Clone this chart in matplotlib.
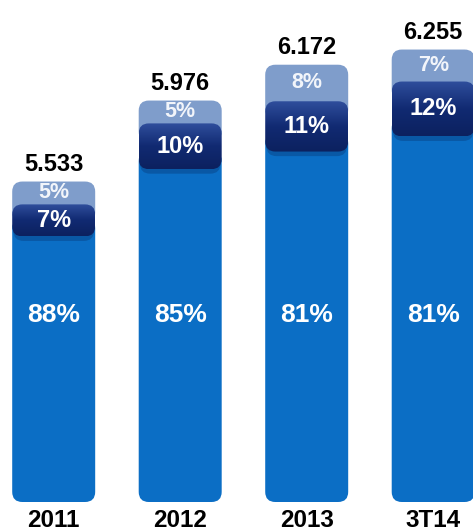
import numpy as np
import matplotlib.pyplot as plt
from matplotlib.patches import FancyBboxPatch
from matplotlib.colors import LinearSegmentedColormap

plt.rcParams['font.family'] = ['Liberation Sans', 'DejaVu Sans']

# Data
years = ['2011', '2012', '2013', '3T14']
totals = [5.533, 5.976, 6.172, 6.255]
share_base = [88, 85, 81, 81]
share_mid = [7, 10, 11, 12]
share_top = [5, 5, 8, 7]

# layout
y_floor = 3.78
seg_k = 0.025          # height of the small segments per percent point
bar_w = 0.656
r = 0.08
aspect = 0.692

blue = '#0B6EC5'
light = '#7F9DCB'
navy = LinearSegmentedColormap.from_list('navy', ['#0C215F', '#112A72', '#2F4E9C'])

fig = plt.figure(figsize=(4.73, 5.32), dpi=100)
ax = fig.add_axes([0, 30 / 532, 1, 502 / 532])
ax.axis('off')


def rbox(x0, y0, w, h, color, z):
    p = FancyBboxPatch((x0, y0), w, h, boxstyle=f'round,pad=0,rounding_size={r}',
                       mutation_aspect=aspect, fc=color, ec='none', zorder=z)
    ax.add_patch(p)
    return p


for i, yr in enumerate(years):
    x0 = i - bar_w / 2
    top = totals[i]
    mid_top = top - share_top[i] * seg_k
    mid_bot = mid_top - share_mid[i] * seg_k

    # light segment (goes under the dark one)
    rbox(x0, mid_top - 0.1, bar_w, top - mid_top + 0.1, light, 1)
    # blue base
    rbox(x0, y_floor, bar_w, mid_bot + 0.1 - y_floor, blue, 2)
    # shadow under dark segment
    rbox(x0 + 0.01, mid_bot - 0.025, bar_w - 0.02, mid_top - mid_bot, '#06306a', 2.5).set_alpha(0.35)
    # dark segment with gradient
    p = rbox(x0, mid_bot, bar_w, mid_top - mid_bot, 'none', 3)
    grad = np.linspace(0, 1, 100).reshape(-1, 1)
    im = ax.imshow(grad, cmap=navy, aspect='auto', origin='lower',
                   extent=(x0, x0 + bar_w, mid_bot, mid_top), zorder=3)
    im.set_clip_path(p)

    ax.text(i, top + 0.095, f'{top:.3f}', ha='center', va='center',
            fontsize=17, fontweight='bold', color='black', zorder=5)
    ax.text(i, (top + mid_top) / 2, f'{share_top[i]}%', ha='center', va='center',
            fontsize=15.5, fontweight='bold', color='#F2F5FA', zorder=5)
    ax.text(i, (mid_top + mid_bot) / 2, f'{share_mid[i]}%', ha='center', va='center',
            fontsize=17, fontweight='bold', color='white', zorder=5)
    ax.text(i, y_floor + 1.023, f'{share_base[i]}%', ha='center', va='center',
            fontsize=19, fontweight='bold', color='white', zorder=5)
    ax.text(i, y_floor - 0.135, yr, ha='center', va='baseline',
            fontsize=17.5, fontweight='bold', color='black', zorder=5)

ax.set_xlim(-0.4245, 3.3146)
ax.set_ylim(y_floor, y_floor + 2.746)

fig.savefig('out.png', dpi=100)
